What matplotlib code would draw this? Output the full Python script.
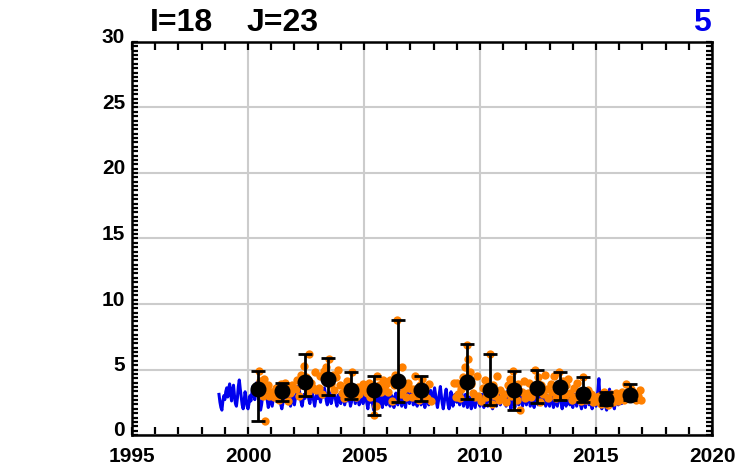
import numpy as np
import matplotlib.pyplot as plt
from matplotlib.ticker import MultipleLocator
from matplotlib.transforms import ScaledTranslation

plt.rcParams['font.family'] = ['Liberation Sans', 'DejaVu Sans']
plt.rcParams['font.weight'] = 'bold'

# ----------------------------
# Data
# ----------------------------
# blue series: half-month steps starting Oct 1998
blue_start = 1998.75
blue_vals = [
    3.1, 2.5, 2.1, 1.9, 2.6, 3.0,
    2.7, 3.3, 3.6, 2.9, 3.5, 3.9, 3.2, 2.6, 3.4, 3.8, 3.0, 2.4, 2.2, 2.8, 3.7, 4.2, 3.5, 2.9, 2.3, 2.0, 2.6, 3.3, 2.8, 2.2,
    2.0, 2.4, 3.0, 2.6, 3.2, 3.7, 3.1, 2.7, 3.5, 4.0, 3.3, 2.8, 2.4, 1.9, 2.3, 2.9, 3.4, 3.0, 3.6, 3.2, 2.6, 2.1, 2.5, 3.0,
    2.6, 2.2, 2.7, 3.2, 2.8, 3.5, 3.1, 3.7, 3.2, 2.7, 2.3, 2.0, 2.4, 2.9, 3.4, 2.9, 3.3, 3.6, 3.0, 2.5, 2.2, 2.6, 3.1, 2.7,
    2.3, 2.8, 3.2, 3.7, 3.1, 3.5, 2.9, 2.5, 2.2, 2.7, 3.1, 2.8, 3.3, 3.8, 3.2, 2.7, 2.4, 2.9, 3.4, 3.0, 2.6, 2.2, 2.7, 3.2,
    2.8, 3.3, 2.9, 2.5, 3.0, 3.4, 2.9, 3.6, 3.2, 2.6, 2.3, 2.8, 3.3, 2.9, 2.4, 2.7, 3.2, 3.5, 3.0, 2.5, 2.2, 2.8, 3.1, 2.6,
    2.4, 2.9, 3.3, 2.8, 2.3, 2.7, 3.1, 2.6, 3.2, 2.8, 2.2, 2.5, 3.0, 3.4, 2.9, 2.4, 2.8, 3.2, 2.7, 2.3, 2.6, 3.1, 2.8, 2.4,
    2.7, 3.2, 2.8, 2.4, 2.0, 2.6, 3.0, 2.5, 2.9, 2.3, 1.9, 2.4, 2.8, 3.3, 2.7, 2.2, 2.6, 3.1, 2.5, 2.1, 2.7, 3.2, 2.6, 2.3,
    2.8, 3.3, 2.7, 2.2, 2.6, 3.0, 2.4, 2.1, 2.7, 3.2, 2.6, 2.3, 2.9, 3.4, 2.8, 2.2, 2.5, 3.0, 2.6, 2.1, 2.8, 3.3, 2.7, 2.4,
    2.9, 3.4, 2.8, 2.3, 2.7, 3.1, 2.5, 2.2, 2.8, 3.3, 2.7, 2.3, 2.6, 3.0, 2.5, 2.1, 2.7, 3.2, 2.6, 2.3, 2.9, 3.4, 2.8, 2.5,
    3.0, 3.6, 3.1, 2.5, 2.1, 2.6, 3.2, 3.7, 3.0, 2.4, 2.0, 2.5, 3.1, 3.5, 2.9, 2.3, 2.0, 2.6, 3.3, 2.8, 2.2, 2.6, 3.1, 2.7,
    2.5, 3.0, 2.7, 2.3, 2.8, 3.3, 2.7, 2.2, 2.6, 3.1, 2.6, 2.1, 2.5, 2.9, 2.4, 2.0, 2.4, 2.9, 2.5, 2.1, 2.6, 3.1, 2.8, 2.4,
    2.2, 2.7, 3.1, 2.6, 2.1, 2.5, 3.0, 2.6, 2.2, 2.8, 3.3, 2.7, 2.3, 2.0, 2.5, 3.0, 2.6, 2.2, 2.7, 3.2, 2.7, 2.3, 2.6, 3.0,
    2.6, 3.1, 2.7, 2.2, 2.8, 3.4, 2.9, 2.4, 2.0, 2.5, 3.0, 2.5, 2.1, 2.6, 3.1, 2.7, 2.3, 2.8, 3.2, 2.6, 2.2, 2.7, 3.1, 2.6,
    2.3, 2.8, 3.3, 2.7, 2.2, 2.6, 3.1, 2.5, 2.1, 2.7, 3.2, 2.6, 2.3, 2.9, 3.4, 2.8, 2.4, 2.9, 3.3, 2.7, 2.2, 2.6, 3.0, 2.5,
    2.2, 2.7, 3.2, 2.6, 2.1, 2.5, 3.0, 2.5, 2.2, 2.8, 3.3, 2.8, 2.4, 2.0, 2.6, 3.1, 2.6, 2.2, 2.7, 3.2, 2.7, 2.3, 2.8, 2.4,
    2.1, 2.6, 3.1, 2.6, 2.2, 2.7, 3.2, 2.6, 2.3, 2.0, 2.5, 3.0, 2.5, 2.1, 2.6, 3.1, 2.7, 2.3, 2.8, 2.4, 2.0, 2.5, 2.9, 2.4,
    2.2, 2.8, 3.4, 4.3, 2.9, 2.3, 2.0, 2.6, 3.2, 2.7, 2.2, 1.9, 2.4, 2.9, 3.5, 2.6, 2.2, 2.7, 2.4, 2.0, 2.5, 3.0, 2.6, 2.3,
    2.5, 2.9, 2.4,
]
blue_t = blue_start + np.arange(len(blue_vals)) / 24.0

# orange points
orange_t = [
    2000.42, 2000.48, 2000.52, 2000.55, 2000.60, 2000.65, 2000.70, 2000.75, 2000.80, 2000.85, 2000.90,
    2001.05, 2001.12, 2001.20, 2001.28, 2001.35, 2001.42, 2001.50, 2001.58, 2001.65, 2001.72, 2001.80, 2001.88, 2001.95,
    2002.05, 2002.12, 2002.20, 2002.28, 2002.35, 2002.42, 2002.50, 2002.58, 2002.65, 2002.72, 2002.80, 2002.88, 2002.95,
    2003.05, 2003.12, 2003.20, 2003.28, 2003.35, 2003.42, 2003.50, 2003.58, 2003.65, 2003.72, 2003.80, 2003.88, 2003.95,
    2004.05, 2004.12, 2004.20, 2004.28, 2004.35, 2004.42, 2004.50, 2004.58, 2004.65, 2004.72, 2004.80, 2004.88, 2004.95,
    2005.05, 2005.12, 2005.20, 2005.28, 2005.35, 2005.42, 2005.50, 2005.58, 2005.65, 2005.72, 2005.80, 2005.88, 2005.95,
    2006.05, 2006.12, 2006.20, 2006.28, 2006.35, 2006.42, 2006.50, 2006.58, 2006.65, 2006.72, 2006.80, 2006.88, 2006.95,
    2007.05, 2007.12, 2007.20, 2007.28, 2007.35, 2007.42, 2007.50, 2007.58, 2007.65, 2007.72, 2007.80, 2007.88,
    2008.90, 2008.95,
    2009.00, 2009.05, 2009.12, 2009.20, 2009.28, 2009.35, 2009.42, 2009.48, 2009.55, 2009.62, 2009.70, 2009.78, 2009.85, 2009.92,
    2010.05, 2010.12, 2010.20, 2010.28, 2010.35, 2010.42, 2010.50, 2010.58, 2010.65, 2010.72, 2010.80, 2010.88, 2010.95,
    2011.05, 2011.12, 2011.20, 2011.28, 2011.35, 2011.42, 2011.50, 2011.58, 2011.65, 2011.72, 2011.80, 2011.88, 2011.95,
    2012.05, 2012.12, 2012.20, 2012.28, 2012.35, 2012.42, 2012.50, 2012.58, 2012.65, 2012.72, 2012.80, 2012.88, 2012.95,
    2013.05, 2013.12, 2013.20, 2013.28, 2013.35, 2013.42, 2013.50, 2013.58, 2013.65, 2013.72, 2013.80, 2013.88, 2013.95,
    2014.05, 2014.12, 2014.20, 2014.28, 2014.35, 2014.42, 2014.50, 2014.58, 2014.65, 2014.72, 2014.80, 2014.88, 2014.95,
    2015.05, 2015.12, 2015.20, 2015.28, 2015.35, 2015.42, 2015.50, 2015.58, 2015.65, 2015.72, 2015.80, 2015.88, 2015.95,
    2016.05, 2016.12, 2016.20, 2016.28, 2016.35, 2016.42, 2016.50, 2016.58, 2016.65, 2016.72, 2016.80, 2016.88, 2016.95,
]
orange_v = [
    3.6, 4.9, 4.1, 3.9, 3.2, 3.0, 4.3, 1.1, 3.5, 3.8, 3.0,
    3.3, 2.9, 3.6, 3.1, 2.7, 3.9, 3.4, 4.0, 3.5, 2.6, 3.2, 3.8, 3.6,
    3.5, 4.2, 3.0, 4.6, 3.8, 5.3, 4.4, 3.3, 6.2, 4.0, 3.6, 4.8, 3.4,
    3.6, 4.5, 3.1, 4.9, 5.2, 4.2, 5.8, 3.9, 4.6, 3.4, 4.4, 5.0, 3.8,
    3.2, 2.8, 3.6, 4.1, 3.0, 3.5, 4.8, 3.3, 2.9, 3.7, 3.1, 3.4, 3.9,
    3.7, 3.2, 4.0, 2.9, 3.5, 1.5, 2.2, 4.5, 3.8, 3.3, 4.2, 3.6, 3.9,
    3.3, 4.2, 2.6, 3.8, 4.6, 8.8, 3.9, 3.1, 5.2, 3.5, 2.9, 4.0, 3.6,
    2.9, 3.5, 4.5, 3.2, 2.7, 3.8, 4.3, 3.1, 3.6, 2.8, 3.9, 2.6,
    4.0, 2.9,
    4.0, 3.1, 2.8, 3.5, 4.4, 5.2, 6.9, 5.8, 4.8, 3.9, 3.2, 2.9, 4.5, 3.0,
    2.6, 3.6, 4.2, 2.9, 3.3, 6.2, 2.4, 3.8, 3.0, 4.5, 2.7, 3.4, 2.8,
    3.1, 2.5, 3.8, 4.3, 3.0, 4.9, 3.6, 2.7, 3.9, 1.9, 3.3, 4.1, 2.8,
    3.2, 4.0, 2.9, 3.7, 5.0, 3.4, 4.4, 2.5, 3.8, 3.1, 4.6, 3.5, 2.8,
    3.9, 3.3, 4.5, 2.8, 3.7, 4.8, 3.5, 4.1, 3.0, 3.8, 4.3, 3.2, 2.7,
    3.6, 2.9, 4.0, 3.2, 2.6, 4.4, 3.0, 2.7, 3.4, 2.8, 3.1, 2.5, 2.9,
    2.6, 3.0, 2.4, 2.9, 3.3, 2.7, 2.3, 2.8, 3.1, 2.5, 2.9, 3.2, 2.6,
    2.8, 3.3, 2.7, 3.9, 3.1, 2.9, 3.5, 2.8, 3.2, 2.7, 3.0, 3.4, 2.7,
]

# yearly means with bars
year_t = [2000.45, 2001.45, 2002.45, 2003.45, 2004.45, 2005.45, 2006.45, 2007.45,
          2009.45, 2010.45, 2011.45, 2012.45, 2013.45, 2014.45, 2015.45, 2016.45]
year_mean = [3.49, 3.38, 4.05, 4.30, 3.43, 3.41, 4.10, 3.43,
             4.02, 3.43, 3.43, 3.56, 3.64, 3.13, 2.77, 3.05]
year_lo = [1.09, 2.60, 2.95, 3.05, 2.77, 1.50, 2.52, 2.62,
           2.77, 2.31, 1.90, 2.42, 2.67, 2.52, 2.31, 2.67]
year_hi = [4.88, 4.00, 6.18, 5.85, 4.83, 4.50, 8.78, 4.50,
           6.92, 6.20, 4.88, 4.98, 4.80, 4.45, 3.30, 3.89]

# ----------------------------
# Plot
# ----------------------------
fig = plt.figure(figsize=(7.4, 4.7), dpi=100)
ax = fig.add_axes([132/740, 1 - 435/470, 580/740, 393/470])

ax.plot(blue_t, blue_vals, color='#0000ee', linewidth=2.2, zorder=2)
ax.plot(orange_t, orange_v, 'o', color='#ff8000', markersize=6, markeredgewidth=0, zorder=3)

yerr = [np.array(year_mean) - np.array(year_lo), np.array(year_hi) - np.array(year_mean)]
ax.errorbar(year_t, year_mean, yerr=yerr, fmt='o', color='black', markersize=10.5,
            elinewidth=2.0, capsize=5, capthick=2.0, zorder=4)

ax.set_xlim(1995, 2020)
ax.set_ylim(0, 30)

ax.xaxis.set_major_locator(MultipleLocator(5))
ax.xaxis.set_minor_locator(MultipleLocator(1))
ax.yaxis.set_major_locator(MultipleLocator(5))
ax.yaxis.set_minor_locator(MultipleLocator(1/3))

ax.tick_params(axis='x', which='both', direction='in', top=True, bottom=True,
               length=6, width=1.6, labelsize=15, pad=9)
ax.tick_params(axis='y', which='both', direction='in', left=True, right=True,
               length=4, width=1.6, labelsize=15, pad=5)

for sp in ax.spines.values():
    sp.set_linewidth(1.8)

ax.grid(True, which='major', color='#cccccc', linewidth=1.5, zorder=0)
ax.set_axisbelow(True)

for lab in ax.get_xticklabels() + ax.get_yticklabels():
    lab.set_fontweight('bold')
for lab in ax.get_yticklabels():
    lab.set_transform(lab.get_transform() + ScaledTranslation(0, 0.06, fig.dpi_scale_trans))

fig.text(150/740, 1 - 31/470, "I=18", fontsize=23, fontweight='bold', ha='left', va='baseline')
fig.text(247/740, 1 - 31/470, "J=23", fontsize=23, fontweight='bold', ha='left', va='baseline')
fig.text(711/740, 1 - 31/470, "5", fontsize=23, fontweight='bold', color='#0000ee', ha='right', va='baseline')

fig.savefig("out.png", dpi=100)
